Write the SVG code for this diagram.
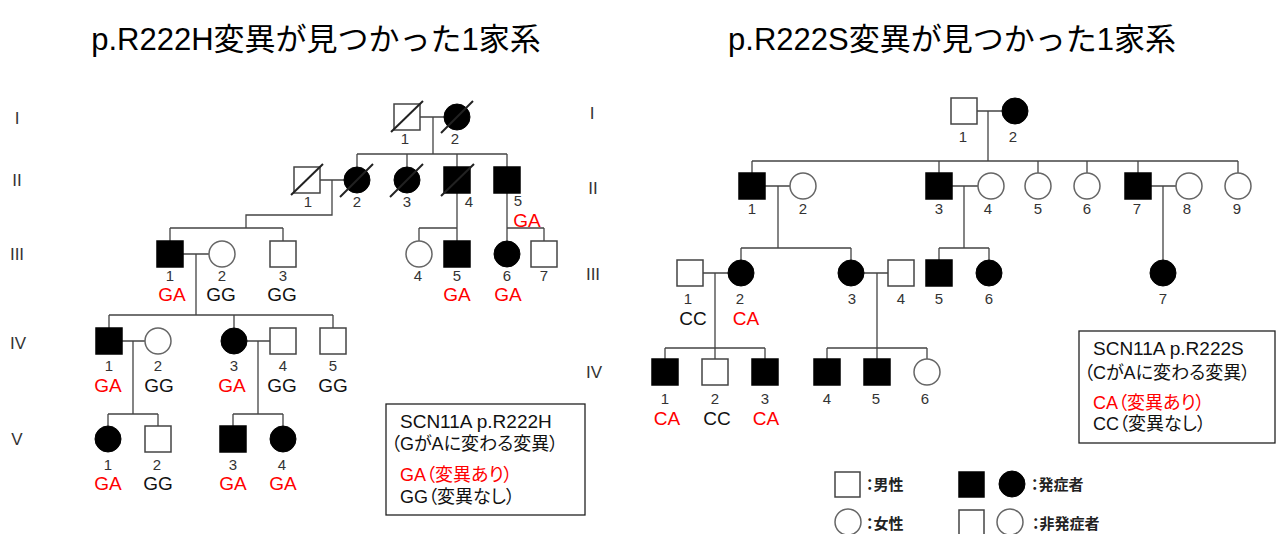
<svg xmlns="http://www.w3.org/2000/svg" width="1277" height="534" viewBox="0 0 1277 534">
<style>
.ln{stroke:#444;stroke-width:1.3;fill:none}
.sq{fill:#fff;stroke:#444;stroke-width:1.5}
.sqa{fill:#000;stroke:#000;stroke-width:1.5}
.ci{fill:#fff;stroke:#666;stroke-width:1.5}
.cia{fill:#000;stroke:#000;stroke-width:1}
.dx{stroke:#222;stroke-width:2}
.num{font-family:"Liberation Sans",sans-serif;font-size:15px;fill:#333;text-anchor:middle}
.gt{font-family:"Liberation Sans",sans-serif;font-size:19px;text-anchor:middle}
.red{fill:#f00}
.blk{fill:#111}
.gen{font-family:"Liberation Sans",sans-serif;font-size:17px;fill:#333;text-anchor:middle}
.title{font-family:"Liberation Sans","Noto Sans CJK JP",sans-serif;font-size:31px;fill:#000;text-anchor:middle}
.lg{font-family:"Liberation Sans","Noto Sans CJK JP",sans-serif;font-size:18px;font-feature-settings:"palt"}
.lg1{font-family:"Liberation Sans",sans-serif;font-size:19px}
.key{font-family:"Noto Sans CJK JP",sans-serif;font-size:15px;font-weight:bold;fill:#222;font-feature-settings:"palt"}
.box{fill:#fff;stroke:#222;stroke-width:1.3}
</style>
<rect width="1277" height="534" fill="#fff"/>

<!-- Titles -->
<text class="title" x="316" y="50">p.R222H変異が見つかった1家系</text>
<text class="title" x="952" y="50">p.R222S変異が見つかった1家系</text>

<!-- Generation labels -->
<g id="gen-left">
<text class="gen" x="17" y="124">I</text>
<text class="gen" x="17" y="186">II</text>
<text class="gen" x="17" y="260">III</text>
<text class="gen" x="18" y="349">IV</text>
<text class="gen" x="17" y="445">V</text>
</g>
<g id="gen-right">
<text class="gen" x="592" y="119">I</text>
<text class="gen" x="593" y="194">II</text>
<text class="gen" x="593" y="280">III</text>
<text class="gen" x="594" y="378">IV</text>
</g>

<!-- Connectors -->
<g id="connectors" class="ln">
<!-- left family -->
<path d="M420 117H444M433 117V154M357 154H507M357 154V167M407 154V167M457 154V167M507 154V167"/>
<path d="M320 180H344M332 180V215H246V228M170 228H283M170 228V241M283 228V241"/>
<path d="M457 193V241M419 228H457M419 228V241"/>
<path d="M507 193V241M507 228H544M544 228V241"/>
<path d="M183 254H209M196 254V315M109 315H333M109 315V328M234 315V328M333 315V328"/>
<path d="M122 341H145M133 341V414M108 414H158M108 414V426M158 414V426"/>
<path d="M247 341H270M258 341V414M233 414H283M233 414V426M283 414V426"/>
<!-- right family -->
<path d="M977 111H1002M988 111V161M752 161H1238M752 161V173M939 161V173M1038 161V173M1087 161V173M1138 161V173M1238 161V173"/>
<path d="M765 186H790M778 186V248M741 248H851M741 248V260M851 248V260"/>
<path d="M952 186H978M964 186V248M939 248H989M939 248V260M989 248V260"/>
<path d="M1151 186H1176M1163 186V260"/>
<path d="M703 273H728M715 273V348M665 348H765M665 348V359M715 348V359M765 348V359"/>
<path d="M864 273H888M877 273V348M827 348H927M827 348V359M877 348V359M927 348V359"/>
</g>

<!-- Left family nodes -->
<g id="L-I-1"><rect class="sq" x="394" y="104" width="26" height="26"/><line class="dx" x1="391" y1="132" x2="423" y2="101"/><text class="num" x="405" y="144">1</text></g>
<g id="L-I-2"><circle class="cia" cx="457" cy="117" r="13"/><line class="dx" x1="441" y1="133" x2="473" y2="101"/><text class="num" x="455" y="144">2</text></g>
<g id="L-II-1"><rect class="sq" x="294" y="167" width="26" height="26"/><line class="dx" x1="291" y1="195" x2="323" y2="164"/><text class="num" x="308" y="207">1</text></g>
<g id="L-II-2"><circle class="cia" cx="357" cy="180" r="13"/><line class="dx" x1="340" y1="197" x2="373" y2="164"/><text class="num" x="357" y="207">2</text></g>
<g id="L-II-3"><circle class="cia" cx="407" cy="180" r="13"/><line class="dx" x1="390" y1="197" x2="423" y2="164"/><text class="num" x="407" y="207">3</text></g>
<g id="L-II-4"><rect class="sqa" x="444" y="167" width="26" height="26"/><line class="dx" x1="441" y1="196" x2="474" y2="164"/><text class="num" x="469" y="207">4</text></g>
<g id="L-II-5"><rect class="sqa" x="494" y="167" width="26" height="26"/><text class="num" x="518" y="206">5</text><text class="gt red" x="527" y="227">GA</text></g>
<g id="L-III-1"><rect class="sqa" x="157" y="241" width="26" height="26"/><text class="num" x="170" y="281">1</text><text class="gt red" x="172" y="301">GA</text></g>
<g id="L-III-2"><circle class="ci" cx="222" cy="254" r="13"/><text class="num" x="222" y="281">2</text><text class="gt blk" x="221" y="301">GG</text></g>
<g id="L-III-3"><rect class="sq" x="270" y="241" width="26" height="26"/><text class="num" x="283" y="281">3</text><text class="gt blk" x="282" y="301">GG</text></g>
<g id="L-III-4"><circle class="ci" cx="419" cy="254" r="13"/><text class="num" x="418" y="281">4</text></g>
<g id="L-III-5"><rect class="sqa" x="444" y="241" width="26" height="26"/><text class="num" x="457" y="281">5</text><text class="gt red" x="457" y="301">GA</text></g>
<g id="L-III-6"><circle class="cia" cx="507" cy="254" r="13"/><text class="num" x="507" y="281">6</text><text class="gt red" x="508" y="301">GA</text></g>
<g id="L-III-7"><rect class="sq" x="531" y="241" width="26" height="26"/><text class="num" x="544" y="281">7</text></g>
<g id="L-IV-1"><rect class="sqa" x="96" y="328" width="26" height="26"/><text class="num" x="109" y="371">1</text><text class="gt red" x="108" y="392">GA</text></g>
<g id="L-IV-2"><circle class="ci" cx="158" cy="341" r="13"/><text class="num" x="158" y="371">2</text><text class="gt blk" x="159" y="392">GG</text></g>
<g id="L-IV-3"><circle class="cia" cx="234" cy="341" r="13"/><text class="num" x="234" y="371">3</text><text class="gt red" x="232" y="392">GA</text></g>
<g id="L-IV-4"><rect class="sq" x="270" y="328" width="26" height="26"/><text class="num" x="283" y="371">4</text><text class="gt blk" x="282" y="392">GG</text></g>
<g id="L-IV-5"><rect class="sq" x="320" y="328" width="26" height="26"/><text class="num" x="333" y="371">5</text><text class="gt blk" x="333" y="392">GG</text></g>
<g id="L-V-1"><circle class="cia" cx="108" cy="439" r="13"/><text class="num" x="108" y="470">1</text><text class="gt red" x="108" y="490">GA</text></g>
<g id="L-V-2"><rect class="sq" x="145" y="426" width="26" height="26"/><text class="num" x="157" y="470">2</text><text class="gt blk" x="158" y="490">GG</text></g>
<g id="L-V-3"><rect class="sqa" x="220" y="426" width="26" height="26"/><text class="num" x="233" y="470">3</text><text class="gt red" x="233" y="490">GA</text></g>
<g id="L-V-4"><circle class="cia" cx="283" cy="439" r="13"/><text class="num" x="282" y="470">4</text><text class="gt red" x="283" y="490">GA</text></g>

<!-- Left legend box -->
<g id="legend-left">
<rect class="box" x="386" y="404" width="199" height="111"/>
<text class="lg1" x="400" y="428" fill="#111">SCN11A p.R222H</text>
<text class="lg" x="391" y="450" fill="#111">（GがAに変わる変異）</text>
<text class="lg" x="400" y="481" fill="#f00">GA（変異あり）</text>
<text class="lg" x="400" y="503" fill="#111">GG（変異なし）</text>
</g>

<!-- Right family nodes -->
<g id="R-I-1"><rect class="sq" x="951" y="98" width="26" height="26"/><text class="num" x="963" y="142">1</text></g>
<g id="R-I-2"><circle class="cia" cx="1015" cy="111" r="13"/><text class="num" x="1013" y="142">2</text></g>
<g id="R-II-1"><rect class="sqa" x="739" y="173" width="26" height="26"/><text class="num" x="752" y="214">1</text></g>
<g id="R-II-2"><circle class="ci" cx="803" cy="186" r="13"/><text class="num" x="803" y="214">2</text></g>
<g id="R-II-3"><rect class="sqa" x="926" y="173" width="26" height="26"/><text class="num" x="939" y="214">3</text></g>
<g id="R-II-4"><circle class="ci" cx="991" cy="186" r="13"/><text class="num" x="988" y="214">4</text></g>
<g id="R-II-5"><circle class="ci" cx="1038" cy="186" r="13"/><text class="num" x="1038" y="214">5</text></g>
<g id="R-II-6"><circle class="ci" cx="1087" cy="186" r="13"/><text class="num" x="1087" y="214">6</text></g>
<g id="R-II-7"><rect class="sqa" x="1125" y="173" width="26" height="26"/><text class="num" x="1137" y="214">7</text></g>
<g id="R-II-8"><circle class="ci" cx="1189" cy="186" r="13"/><text class="num" x="1187" y="214">8</text></g>
<g id="R-II-9"><circle class="ci" cx="1238" cy="186" r="13"/><text class="num" x="1237" y="214">9</text></g>
<g id="R-III-1"><rect class="sq" x="677" y="260" width="26" height="26"/><text class="num" x="688" y="304">1</text><text class="gt blk" x="693" y="325">CC</text></g>
<g id="R-III-2"><circle class="cia" cx="741" cy="273" r="13"/><text class="num" x="740" y="304">2</text><text class="gt red" x="746" y="325">CA</text></g>
<g id="R-III-3"><circle class="cia" cx="851" cy="273" r="13"/><text class="num" x="852" y="304">3</text></g>
<g id="R-III-4"><rect class="sq" x="888" y="260" width="26" height="26"/><text class="num" x="901" y="304">4</text></g>
<g id="R-III-5"><rect class="sqa" x="926" y="260" width="26" height="26"/><text class="num" x="939" y="304">5</text></g>
<g id="R-III-6"><circle class="cia" cx="989" cy="273" r="13"/><text class="num" x="989" y="304">6</text></g>
<g id="R-III-7"><circle class="cia" cx="1163" cy="273" r="13"/><text class="num" x="1163" y="304">7</text></g>
<g id="R-IV-1"><rect class="sqa" x="652" y="359" width="26" height="26"/><text class="num" x="665" y="404">1</text><text class="gt red" x="667" y="425">CA</text></g>
<g id="R-IV-2"><rect class="sq" x="702" y="359" width="26" height="26"/><text class="num" x="715" y="404">2</text><text class="gt blk" x="717" y="425">CC</text></g>
<g id="R-IV-3"><rect class="sqa" x="752" y="359" width="26" height="26"/><text class="num" x="765" y="404">3</text><text class="gt red" x="766" y="425">CA</text></g>
<g id="R-IV-4"><rect class="sqa" x="814" y="359" width="26" height="26"/><text class="num" x="827" y="404">4</text></g>
<g id="R-IV-5"><rect class="sqa" x="864" y="359" width="26" height="26"/><text class="num" x="876" y="404">5</text></g>
<g id="R-IV-6"><circle class="ci" cx="927" cy="372" r="13"/><text class="num" x="925" y="404">6</text></g>

<!-- Right legend box -->
<g id="legend-right">
<rect class="box" x="1079" y="331" width="196" height="112"/>
<text class="lg1" x="1093" y="355" fill="#111">SCN11A p.R222S</text>
<text class="lg" x="1084" y="379" fill="#111">（CがAに変わる変異）</text>
<text class="lg" x="1093" y="409" fill="#f00">CA（変異あり）</text>
<text class="lg" x="1093" y="430" fill="#111">CC（変異なし）</text>
</g>

<!-- Symbol key -->
<g id="key">
<rect class="sq" x="835" y="472" width="25" height="25"/>
<text class="key" x="866" y="490">：男性</text>
<rect class="sqa" x="959" y="472" width="25" height="25"/>
<circle class="cia" cx="1012" cy="484" r="13"/>
<text class="key" x="1031" y="490">：発症者</text>
<circle class="ci" cx="848" cy="522" r="13"/>
<text class="key" x="866" y="529">：女性</text>
<rect class="sq" x="959" y="510" width="25" height="25"/>
<circle class="ci" cx="1010" cy="522" r="13"/>
<text class="key" x="1032" y="529">：非発症者</text>
</g>
</svg>
